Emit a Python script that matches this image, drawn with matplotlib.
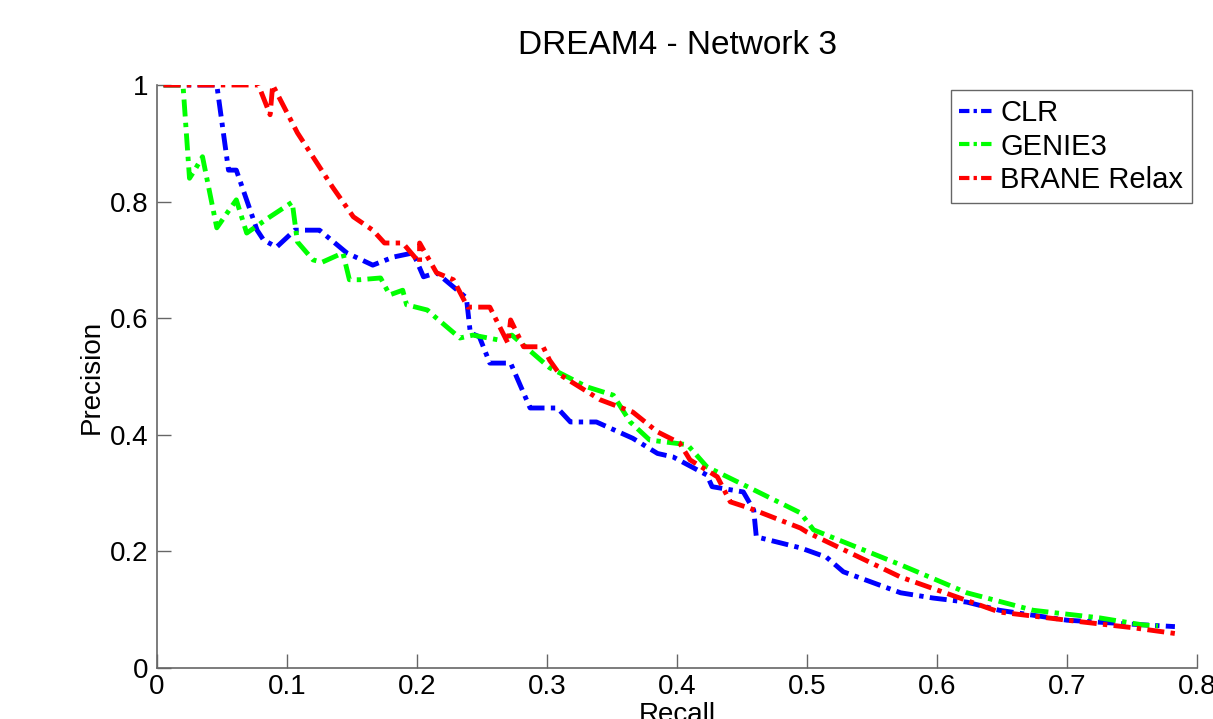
import numpy as np
from matplotlib import pyplot as plt
from matplotlib.ticker import FormatStrFormatter

plt.rcParams['font.family'] = ['Liberation Sans', 'DejaVu Sans']

# recall / precision
clr_r = [0.005, 0.046, 0.055, 0.061, 0.077, 0.082, 0.092, 0.106, 0.125, 0.146, 0.166,
         0.182, 0.197, 0.205, 0.215, 0.238, 0.241, 0.248, 0.256, 0.272, 0.287, 0.308,
         0.318, 0.338, 0.366, 0.385, 0.397, 0.423, 0.427, 0.451, 0.459, 0.461, 0.495,
         0.515, 0.528, 0.572, 0.597, 0.623, 0.648, 0.700, 0.751, 0.783]
clr_p = [1.0, 1.0, 0.854, 0.854, 0.751, 0.734, 0.722, 0.751, 0.751, 0.712, 0.691,
         0.705, 0.712, 0.671, 0.678, 0.635, 0.575, 0.568, 0.523, 0.523, 0.446, 0.446,
         0.422, 0.422, 0.394, 0.368, 0.362, 0.331, 0.311, 0.302, 0.271, 0.225, 0.206,
         0.190, 0.165, 0.129, 0.120, 0.113, 0.099, 0.082, 0.075, 0.071]

genie_r = [0.005, 0.020, 0.025, 0.029, 0.035, 0.046, 0.061, 0.069, 0.087, 0.104, 0.108,
           0.120, 0.127, 0.143, 0.148, 0.156, 0.172, 0.179, 0.189, 0.192, 0.208, 0.214,
           0.233, 0.243, 0.262, 0.273, 0.302, 0.331, 0.351, 0.364, 0.379, 0.408, 0.423,
           0.456, 0.495, 0.505, 0.572, 0.623, 0.674, 0.725, 0.758, 0.770]
genie_p = [1.0, 1.0, 0.840, 0.854, 0.877, 0.755, 0.803, 0.746, 0.774, 0.799, 0.731,
           0.700, 0.696, 0.712, 0.666, 0.666, 0.669, 0.640, 0.648, 0.623, 0.614, 0.602,
           0.566, 0.571, 0.563, 0.571, 0.515, 0.482, 0.468, 0.422, 0.391, 0.383, 0.345,
           0.309, 0.266, 0.237, 0.177, 0.129, 0.099, 0.086, 0.074, 0.072]

brane_r = [0.005, 0.078, 0.087, 0.089, 0.108, 0.135, 0.151, 0.166, 0.175, 0.189, 0.202,
           0.202, 0.215, 0.228, 0.239, 0.256, 0.270, 0.272, 0.282, 0.297, 0.302, 0.310,
           0.341, 0.366, 0.385, 0.402, 0.410, 0.431, 0.441, 0.456, 0.495, 0.500, 0.572,
           0.648, 0.700, 0.751, 0.787]
brane_p = [1.0, 1.0, 0.949, 1.0, 0.918, 0.825, 0.774, 0.751, 0.729, 0.729, 0.695,
           0.729, 0.678, 0.666, 0.619, 0.619, 0.557, 0.597, 0.551, 0.551, 0.528, 0.503,
           0.460, 0.439, 0.405, 0.386, 0.357, 0.328, 0.285, 0.274, 0.240, 0.233, 0.156,
           0.096, 0.082, 0.069, 0.058]

fig = plt.figure(figsize=(12.13, 7.19), dpi=100)
ax = fig.add_axes([157/1213, 51/719, 1040/1213, 583/719])

dd = (3.5, 1.3, 0.9, 1.3)
ax.plot(clr_r, clr_p, '-.', color='#0000ff', lw=3.5, dashes=dd, label='CLR')
ax.plot(genie_r, genie_p, '-.', color='#00ff00', lw=3.5, dashes=dd, label='GENIE3')
ax.plot(brane_r, brane_p, '-.', color='#ff0000', lw=3.5, dashes=dd, label='BRANE Relax')

ax.set_xlim(0, 0.8)
ax.set_ylim(0, 1)
ax.set_xticks(np.arange(0, 0.81, 0.1))
ax.set_yticks(np.arange(0, 1.01, 0.2))
ax.xaxis.set_major_formatter(FormatStrFormatter('%g'))
ax.yaxis.set_major_formatter(FormatStrFormatter('%g'))
ax.tick_params(direction='in', length=10, width=1, color='0.4', labelsize=20, pad=4)
ax.tick_params(axis='y', pad=6)
for s in ['top', 'right']:
    ax.spines[s].set_visible(False)
for s in ['left', 'bottom']:
    ax.spines[s].set_color('0.4')
    ax.spines[s].set_linewidth(1.2)

ax.set_title('DREAM4 - Network 3', fontsize=24, pad=22)
ax.set_xlabel('Recall', fontsize=20, labelpad=2)
ax.set_ylabel('Precision', fontsize=20, labelpad=4)

leg = ax.legend(loc='upper right', bbox_to_anchor=(1192/1213, 629/719), bbox_transform=fig.transFigure,
                fontsize=21, handlelength=1.2, handletextpad=0.2, borderpad=0.3,
                labelspacing=0.2, fancybox=False, framealpha=1, borderaxespad=0)
leg.get_frame().set_edgecolor('0.4')
leg.get_frame().set_linewidth(1)
for h in leg.get_lines():
    h.set_linewidth(3)
    h.set_dashes((2.5, 1.0, 0.8, 1.0))

fig.savefig('out.png', dpi=100)
